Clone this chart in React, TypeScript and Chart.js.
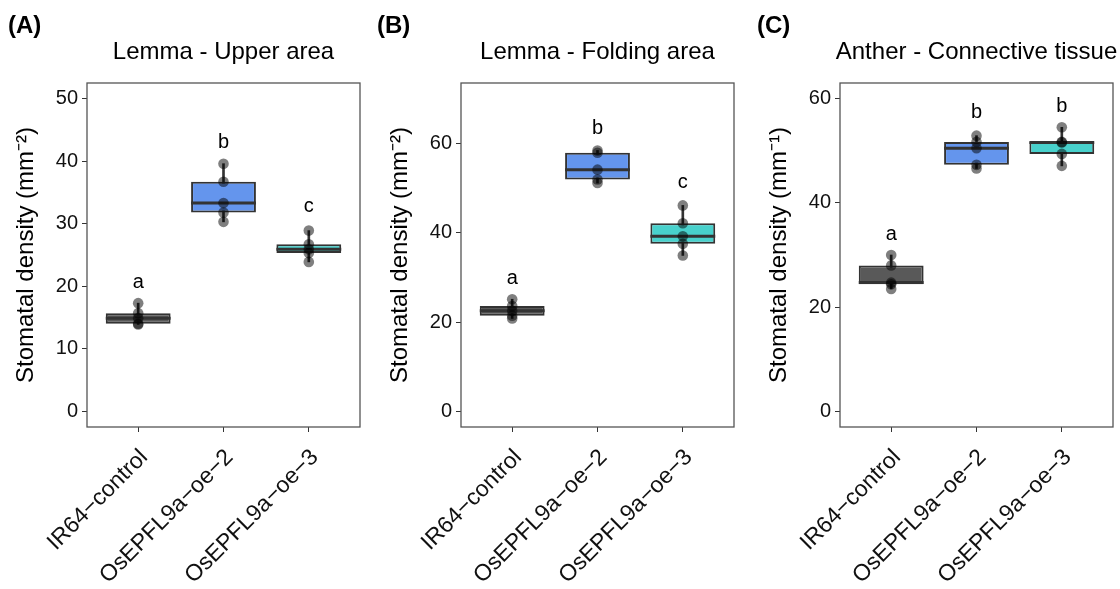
import React, { useEffect, useRef } from "react";
import { Chart, registerables } from "chart.js";

Chart.register(...registerables);

const FONT = "'Liberation Sans', Arial, Helvetica, sans-serif";

// Shared categories and fills
const categories = ["IR64−control", "OsEPFL9a−oe−2", "OsEPFL9a−oe−3"];
const boxColors = ["#595959", "#6495ED", "#48D1CC"];

// ---- Panel A: Lemma - Upper area ----
const titleA = "Lemma - Upper area";
const yTitleA = "Stomatal density (mm⁻²)";
const pointsA = [
  [13.9, 14.0, 14.9, 15.7, 17.3],
  [30.3, 31.8, 33.3, 36.7, 39.6],
  [23.9, 25.3, 25.9, 26.7, 28.9],
];
const loA = [13.9, 30.3, 23.9];
const q1A = [14.0, 31.8, 25.3];
const medA = [14.9, 33.3, 25.9];
const q3A = [15.7, 36.7, 26.7];
const hiA = [17.3, 39.6, 28.9];
const lettersA = ["a", "b", "c"];
const letterYA = [19.8, 42.1, 31.8];
const yTicksA = [0, 10, 20, 30, 40, 50];
const yLimitA: [number, number] = [0, 50];

// ---- Panel B: Lemma - Folding area ----
const titleB = "Lemma - Folding area";
const yTitleB = "Stomatal density (mm⁻²)";
const pointsB = [
  [20.8, 21.4, 22.5, 23.6, 25.1],
  [51.1, 51.9, 54.1, 57.9, 58.4],
  [34.9, 37.5, 39.2, 42.1, 46.1],
];
const loB = [20.8, 51.1, 34.9];
const q1B = [21.4, 51.9, 37.5];
const medB = [22.5, 54.1, 39.2];
const q3B = [23.6, 57.9, 42.1];
const hiB = [25.1, 58.4, 46.1];
const lettersB = ["a", "b", "c"];
const letterYB = [28.5, 62.1, 49.9];
const yTicksB = [0, 20, 40, 60];
const yLimitB: [number, number] = [0, 70];

// ---- Panel C: Anther - Connective tissue ----
const titleC = "Anther - Connective tissue";
const yTitleC = "Stomatal density (mm⁻¹)";
const pointsC = [
  [23.5, 24.4, 24.7, 28.0, 30.0],
  [46.6, 47.3, 50.5, 51.7, 52.9],
  [47.1, 49.4, 51.6, 51.7, 54.5],
];
const loC = [23.5, 46.6, 47.1];
const q1C = [24.4, 47.3, 49.4];
const medC = [24.7, 50.5, 51.6];
const q3C = [28.0, 51.7, 51.7];
const hiC = [30.0, 52.9, 54.5];
const lettersC = ["a", "b", "b"];
const letterYC = [32.8, 56.2, 57.4];
const yTicksC = [0, 20, 40, 60];
const yLimitC: [number, number] = [0, 60];

type PanelProps = {
  left: number;
  width: number;
  tag: string;
  tagX: number;
  title: string;
  yTitle: string;
  points: number[][];
  lo: number[];
  q1: number[];
  med: number[];
  q3: number[];
  hi: number[];
  letters: string[];
  letterY: number[];
  yTicks: number[];
  yLimit: [number, number];
};

const HEIGHT = 589;

function Panel(p: PanelProps) {
  const ref = useRef<HTMLCanvasElement>(null);

  useEffect(() => {
    if (!ref.current) return;
    const span = p.yLimit[1] - p.yLimit[0];
    const decor = {
      id: "panelDecor",
      afterDatasetDraw(chart: any, args: any) {
        if (args.index !== 1) return;
        const ctx = chart.ctx;
        const ys = chart.scales.y;
        const meta = chart.getDatasetMeta(1);
        ctx.save();
        ctx.strokeStyle = "#333333";
        ctx.lineWidth = 3;
        meta.data.forEach((bar: any, i: number) => {
          const { x, width } = bar.getProps(["x", "width"], true);
          const y = ys.getPixelForValue(p.med[i]);
          ctx.beginPath();
          ctx.moveTo(x - width / 2, y);
          ctx.lineTo(x + width / 2, y);
          ctx.stroke();
        });
        ctx.restore();
      },
      afterDraw(chart: any) {
        const { ctx, chartArea: a } = chart;
        const xs = chart.scales.x;
        const ys = chart.scales.y;
        ctx.save();
        ctx.strokeStyle = "#555555";
        ctx.lineWidth = 1.3;
        ctx.strokeRect(a.left, a.top, a.right - a.left, a.bottom - a.top);
        ctx.fillStyle = "#000000";
        ctx.textAlign = "center";
        ctx.textBaseline = "alphabetic";
        ctx.font = `20px ${FONT}`;
        p.letters.forEach((l, i) => {
          ctx.fillText(l, xs.getPixelForValue(i), ys.getPixelForValue(p.letterY[i]));
        });
        ctx.font = `24px ${FONT}`;
        ctx.fillText(p.title, (a.left + a.right) / 2, 59);
        ctx.font = `bold 24px ${FONT}`;
        ctx.textAlign = "left";
        ctx.fillText(p.tag, p.tagX, 33);
        ctx.restore();
      },
    };

    const chart = new Chart(ref.current, {
      type: "bar",
      data: {
        datasets: [
          {
            type: "bar",
            data: categories.map((_, i) => ({ x: i, y: [p.lo[i], p.hi[i]] })),
            backgroundColor: "#333333",
            barThickness: 2,
            grouped: false,
            order: 2,
          } as any,
          {
            type: "bar",
            data: categories.map((_, i) => ({ x: i, y: [p.q1[i], p.q3[i]] })),
            backgroundColor: boxColors,
            borderColor: "#333333",
            borderWidth: 2,
            borderSkipped: false,
            grouped: false,
            barPercentage: 0.76,
            categoryPercentage: 1,
            order: 1,
          } as any,
          {
            type: "scatter",
            data: p.points.flatMap((vals, i) => vals.map((v) => ({ x: i, y: v }))),
            backgroundColor: "rgba(0,0,0,0.5)",
            borderWidth: 0,
            pointRadius: 5.3,
            pointHoverRadius: 5.3,
            order: 0,
          } as any,
        ],
      },
      options: {
        animation: false,
        responsive: false,
        devicePixelRatio: 1,
        events: [],
        layout: { padding: { left: 0, top: 83, right: p.width - 360, bottom: 0 } },
        plugins: {
          legend: { display: false },
          tooltip: { enabled: false },
          title: { display: false },
        },
        scales: {
          x: {
            type: "linear",
            min: -0.6,
            max: 2.6,
            offset: false,
            afterBuildTicks: (s: any) => {
              s.ticks = categories.map((_, i) => ({ value: i }));
            },
            afterFit: (s: any) => {
              s.height = HEIGHT - 427;
            },
            ticks: {
              autoSkip: false,
              minRotation: 45,
              maxRotation: 45,
              font: { family: FONT, size: 23 },
              color: "#111111",
              padding: 12,
              labelOffset: 6,
              callback: (v: any) => categories[v as number] ?? "",
            },
            grid: {
              offset: false,
              drawOnChartArea: false,
              drawTicks: true,
              tickLength: 5,
              color: "#333333",
            },
            border: { display: false },
          },
          y: {
            type: "linear",
            min: p.yLimit[0] - 0.05 * span,
            max: p.yLimit[1] + 0.05 * span,
            afterBuildTicks: (s: any) => {
              s.ticks = p.yTicks.map((v) => ({ value: v }));
            },
            afterFit: (s: any) => {
              s.width = 87;
            },
            ticks: {
              font: { family: FONT, size: 20 },
              color: "#111111",
              padding: 4,
            },
            grid: {
              drawOnChartArea: false,
              drawTicks: true,
              tickLength: 5,
              color: "#333333",
            },
            border: { display: false },
            title: {
              display: true,
              text: p.yTitle,
              font: { family: FONT, size: 24 },
              color: "#000000",
              padding: { top: 12, bottom: 0 },
            },
          },
        },
      } as any,
      plugins: [decor],
    });
    return () => chart.destroy();
  }, []);

  return (
    <canvas
      ref={ref}
      width={p.width}
      height={HEIGHT}
      style={{ position: "absolute", left: p.left, top: 0, width: p.width, height: HEIGHT }}
    />
  );
}

export default function App() {
  return (
    <div
      style={{
        position: "fixed",
        left: 0,
        top: 0,
        width: 1120,
        height: HEIGHT,
        overflow: "hidden",
        background: "#ffffff",
      }}
    >
      <Panel
        left={0} width={373} tag="(A)" tagX={8} title={titleA} yTitle={yTitleA}
        points={pointsA} lo={loA} q1={q1A} med={medA} q3={q3A} hi={hiA}
        letters={lettersA} letterY={letterYA} yTicks={yTicksA} yLimit={yLimitA}
      />
      <Panel
        left={374} width={373} tag="(B)" tagX={3} title={titleB} yTitle={yTitleB}
        points={pointsB} lo={loB} q1={q1B} med={medB} q3={q3B} hi={hiB}
        letters={lettersB} letterY={letterYB} yTicks={yTicksB} yLimit={yLimitB}
      />
      <Panel
        left={753} width={367} tag="(C)" tagX={4} title={titleC} yTitle={yTitleC}
        points={pointsC} lo={loC} q1={q1C} med={medC} q3={q3C} hi={hiC}
        letters={lettersC} letterY={letterYC} yTicks={yTicksC} yLimit={yLimitC}
      />
    </div>
  );
}
